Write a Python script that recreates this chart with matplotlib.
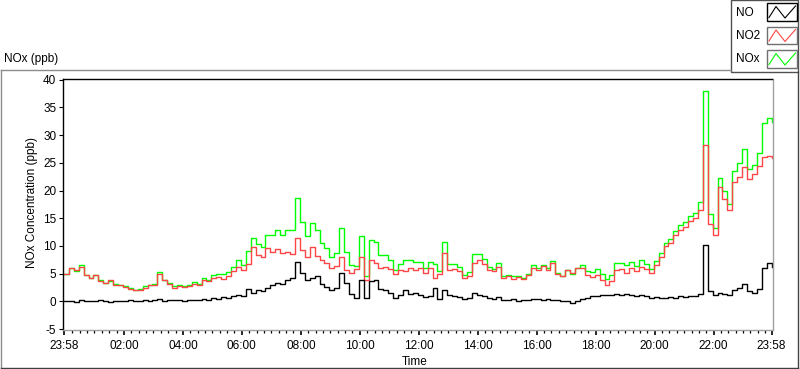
import numpy as np
import matplotlib.pyplot as plt
from matplotlib.lines import Line2D
from matplotlib.patches import Rectangle

# 10-minute readings, hours since 23:58 of the previous day
no2 = [5.0, 6.0, 5.6, 6.3, 4.8, 4.2,
       4.7, 3.6, 3.3, 3.8, 3.0, 2.9,
       2.6, 2.2, 2.0, 2.1, 2.4, 2.9,
       3.0, 4.9, 3.8, 3.2, 2.4, 2.8,
       2.6, 2.8, 3.2, 3.0, 3.8, 3.6,
       4.2, 4.4, 4.1, 4.6, 5.4, 6.2,
       5.6, 6.8, 9.9, 8.3, 8.0, 9.6,
       9.0, 9.4, 8.8, 9.0, 8.6, 11.4,
       9.2, 8.0, 9.8, 8.2, 7.4, 7.0,
       6.1, 6.4, 8.0, 5.6, 5.2, 5.8,
       8.0, 3.8, 7.4, 7.0, 6.1, 6.3,
       5.8, 5.0, 5.6, 5.4, 6.0, 5.6,
       6.0, 5.2, 6.1, 4.3, 5.0, 8.7,
       5.6, 5.8, 5.4, 4.3, 4.6, 6.9,
       7.4, 6.8, 5.6, 5.4, 6.2, 4.3,
       4.6, 4.1, 4.4, 4.0, 4.8, 6.1,
       5.6, 6.4, 5.6, 7.0, 5.0, 4.6,
       5.6, 5.2, 6.0, 6.1, 4.7, 4.4,
       4.8, 3.8, 2.9, 3.6, 5.6, 5.8,
       5.2, 6.0, 5.4, 6.2, 5.8, 5.2,
       6.5, 8.0, 10.0, 10.5, 12.0, 12.8,
       13.5, 14.5, 15.0, 16.5, 28.2, 14.0,
       12.0, 20.6, 18.5, 16.5, 21.5, 22.4,
       24.2, 22.0, 23.0, 24.5, 26.0, 26.2,
       25.8]

no = [0.0, 0.1, -0.1, 0.2, 0.0, 0.1,
      0.0, 0.2, 0.1, -0.1, 0.1, 0.0,
      0.1, 0.2, 0.0, 0.1, 0.3, 0.1,
      0.2, 0.4, 0.1, 0.2, 0.3, 0.2,
      0.1, 0.2, 0.3, 0.2, 0.4, 0.3,
      0.6, 0.5, 0.8, 0.7, 0.9, 1.2,
      1.0, 2.3, 1.6, 2.0, 1.8, 2.4,
      3.0, 3.4, 3.2, 3.8, 4.3, 7.2,
      5.2, 3.8, 4.3, 4.6, 3.2, 2.6,
      2.0, 2.4, 5.2, 3.4, 1.4, 0.6,
      3.8, 0.7, 3.6, 3.8, 2.2, 2.0,
      1.6, 0.7, 1.2, 2.0, 1.4, 1.6,
      1.2, 0.8, 1.0, 2.5, 0.5, 2.0,
      1.2, 1.0, 0.8, 0.5, 0.7, 1.6,
      1.1, 0.9, 0.6, 0.5, 0.8, 0.3,
      0.2, 0.4, 0.1, 0.3, 0.2, 0.5,
      0.4, 0.2, 0.5, 0.3, 0.2, 0.0,
      0.1, -0.2, 0.0, 0.5, 0.7, 0.9,
      1.0, 1.1, 1.2, 1.1, 1.3, 1.2,
      1.3, 1.1, 1.0, 1.2, 0.9, 0.7,
      0.8, 0.7, 0.6, 0.8, 0.7, 0.9,
      0.8, 0.9, 1.0, 1.4, 10.1, 1.8,
      1.2, 1.6, 1.4, 1.1, 2.0, 2.5,
      3.2, 1.8, 1.6, 2.2, 6.1, 6.9,
      6.3]

nox = [5.0, 6.1, 5.5, 6.5, 4.8, 4.3,
       4.7, 3.8, 3.4, 3.7, 3.1, 2.9,
       2.7, 2.4, 2.0, 2.2, 2.7, 3.0,
       3.2, 5.3, 3.9, 3.4, 2.7, 3.0,
       2.7, 3.0, 3.5, 3.2, 4.2, 3.9,
       4.8, 4.9, 4.9, 5.3, 6.3, 7.4,
       6.6, 9.1, 11.5, 10.3, 9.8, 12.0,
       12.0, 12.8, 12.0, 12.8, 12.9, 18.6,
       14.4, 11.8, 14.1, 12.8, 10.6, 9.6,
       8.1, 8.8, 13.2, 9.0, 6.6, 6.4,
       11.8, 4.5, 11.0, 10.8, 8.3, 8.3,
       7.4, 5.7, 6.8, 7.4, 7.4, 7.2,
       7.2, 6.0, 7.1, 6.8, 5.5, 10.7,
       6.8, 6.8, 6.2, 4.8, 5.3, 8.5,
       8.5, 7.7, 6.2, 5.9, 7.0, 4.6,
       4.8, 4.5, 4.5, 4.3, 5.0, 6.6,
       6.0, 6.6, 6.1, 7.3, 5.2, 4.6,
       5.7, 5.0, 6.0, 6.6, 5.4, 5.3,
       5.8, 4.9, 4.1, 4.7, 6.9, 7.0,
       6.5, 7.1, 6.4, 7.4, 6.7, 5.9,
       7.3, 8.7, 10.6, 11.3, 12.7, 13.7,
       14.3, 15.4, 16.0, 17.9, 38.0, 15.8,
       13.2, 22.2, 19.9, 17.6, 23.5, 24.9,
       27.4, 23.8, 24.6, 26.7, 32.1, 33.1,
       32.4]

hours = np.arange(len(no2)) / 6.0
tick_pos = [0, 2 + 2/60, 4 + 2/60, 6 + 2/60, 8 + 2/60, 10 + 2/60, 12 + 2/60,
            14 + 2/60, 16 + 2/60, 18 + 2/60, 20 + 2/60, 22 + 2/60, 24]
tick_labels = ["23:58", "02:00", "04:00", "06:00", "08:00", "10:00", "12:00",
               "14:00", "16:00", "18:00", "20:00", "22:00", "23:58"]

plt.rcParams['font.family'] = ['Liberation Sans', 'DejaVu Sans']
plt.rcParams['axes.unicode_minus'] = False
W, H = 800, 369
fig = plt.figure(figsize=(8, 3.69), dpi=100)


def fx(x):
    return x / W


def fy(y):
    return 1 - y / H


# outer panel frame
fig.add_artist(Line2D([fx(0.5), fx(731)], [fy(69.5), fy(69.5)], color="#8c8c8c", lw=1))
fig.add_artist(Line2D([fx(0.5), fx(0.5)], [fy(69.5), fy(367.5)], color="#8c8c8c", lw=1))
fig.add_artist(Line2D([fx(0.5), fx(797.5)], [fy(367.5), fy(367.5)], color="#404040", lw=1))
fig.add_artist(Line2D([fx(797.5), fx(797.5)], [fy(72), fy(367.5)], color="#404040", lw=1))

ax = fig.add_axes([fx(62.5), fy(330), fx(772.5) - fx(62.5), fy(78.5) - fy(330)])
ax.plot(hours, nox, color="#00ff00", lw=1, drawstyle="steps-post")
ax.plot(hours, no2, color="#ff4646", lw=1, drawstyle="steps-post")
ax.plot(hours, no, color="black", lw=1, drawstyle="steps-post")

ax.set_xlim(-0.05, 24.03)
ax.set_ylim(-5.15, 40.2)
ax.set_yticks(range(-5, 41, 5))
ax.set_xticks(tick_pos)
ax.set_xticklabels(tick_labels)
minor = [2/60 + k * 0.25 for k in range(1, 96) if k % 8 != 0]
ax.set_xticks(minor, minor=True)
ax.tick_params(axis="both", labelsize=8.5, colors="black")
ax.tick_params(axis="x", which="major", length=3.6, width=1.2, pad=3.5)
ax.tick_params(axis="x", which="minor", length=2.2, width=0.9)
ax.tick_params(axis="y", length=3, width=0.8, pad=1.5)
ax.spines["left"].set_color("black")
ax.spines["top"].set_color("black")
ax.spines["right"].set_color("#a0a0a0")
ax.spines["bottom"].set_color("#a0a0a0")
for s in ax.spines.values():
    s.set_linewidth(1)

fig.text(fx(4), fy(59), "NOx (ppb)", fontsize=8.5, ha="left", va="center")
fig.text(fx(32), fy(203), "NOx Concentration (ppb)", fontsize=8.5, rotation=90,
         ha="center", va="center")
fig.text(fx(415), fy(362), "Time", fontsize=8.5, ha="center", va="center")

# legend panel
fig.add_artist(Rectangle((fx(731), fy(72)), fx(67), fy(0) - fy(72), fill=False,
                         edgecolor="#505050", lw=1))
names = ["NO", "NO2", "NOx"]
colors = ["black", "#ff4646", "#00ff00"]
borders = ["black", "#707070", "#707070"]
for i, (name, c, b) in enumerate(zip(names, colors, borders)):
    top = 3.5 + i * 23.5
    fig.text(fx(736), fy(top + 9), name, fontsize=8.5, ha="left", va="center")
    fig.add_artist(Rectangle((fx(767), fy(top + 17)), fx(30), fy(0) - fy(17),
                             fill=False, edgecolor=b, lw=1))
    zx = [769, 776, 785, 795.5]
    zy = [top + 14, top + 3, top + 14.5, top + 2.5]
    fig.add_artist(Line2D([fx(v) for v in zx], [fy(v) for v in zy], color=c, lw=0.8))

fig.savefig("out.png", dpi=100)
